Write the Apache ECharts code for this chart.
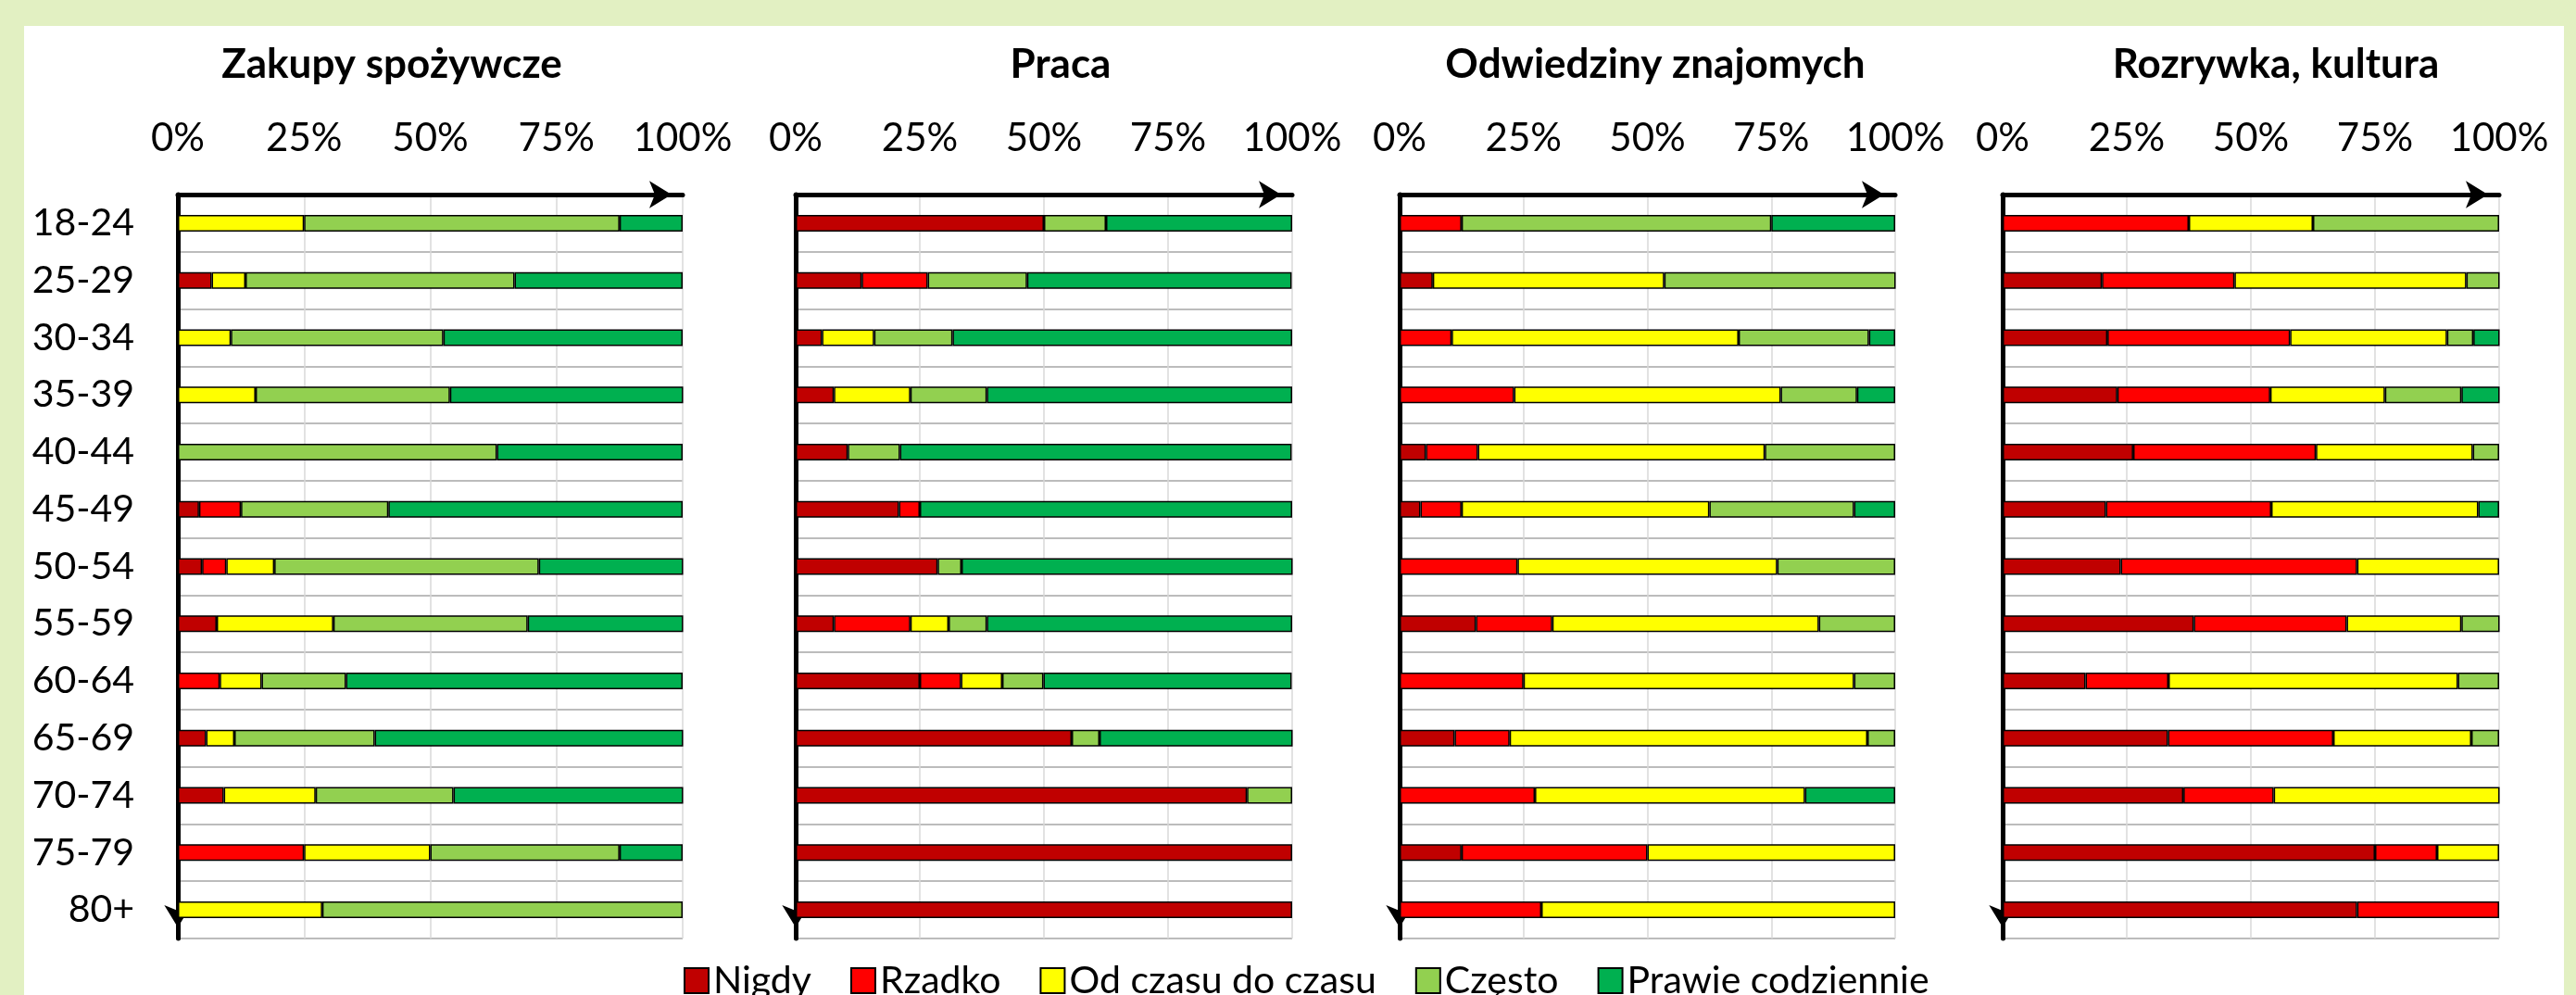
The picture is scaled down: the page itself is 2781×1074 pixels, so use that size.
<!DOCTYPE html>
<html>
<head>
<meta charset="utf-8">
<script src="https://cdn.jsdelivr.net/npm/echarts@6/dist/echarts.min.js"></script>
<style>
  html, body { margin: 0; padding: 0; }
  #page { position: relative; width: 2781px; height: 1074px; background: #E2F0C2; overflow: hidden; }
  #card { position: absolute; left: 26px; top: 28px; width: 2742px; height: 1060px; background: #fff; }
  #chart { position: absolute; left: 0; top: 0; width: 2781px; height: 1074px; }
</style>
</head>
<body>
<div id="page">
  <div id="card"></div>
  <div id="chart"></div>
</div>
<script>
  // grupy wiekowe
  const ages = ['18-24', '25-29', '30-34', '35-39', '40-44', '45-49', '50-54', '55-59', '60-64', '65-69', '70-74', '75-79', '80+']
  const answers = ['Nigdy', 'Rzadko', 'Od czasu do czasu', 'Często', 'Prawie codziennie']
  const colors = ['#C00000', '#FF0000', '#FFFF00', '#92D050', '#00B050']
  const ticks = [0, 25, 50, 75, 100]

  // Zakupy spożywcze (%)
  const zakupyNigdy   = [0, 6.7, 0, 0, 0, 4.2, 4.8, 7.7, 0, 5.6, 9.1, 0, 0]
  const zakupyRzadko  = [0, 0, 0, 0, 0, 8.3, 4.8, 0, 8.3, 0, 0, 25, 0]
  const zakupyOdCzasu = [25, 6.7, 10.5, 15.4, 0, 0, 9.5, 23.1, 8.3, 5.6, 18.2, 25, 28.6]
  const zakupyCzesto  = [62.5, 53.3, 42.1, 38.5, 63.2, 29.2, 52.4, 38.5, 16.7, 27.8, 27.3, 37.5, 71.4]
  const zakupyPrawie  = [12.5, 33.3, 47.4, 46.2, 36.8, 58.3, 28.6, 30.8, 66.7, 61.1, 45.5, 12.5, 0]

  // Praca
  const pracaNigdy   = [50, 13.3, 5.3, 7.7, 10.5, 20.8, 28.6, 7.7, 25, 55.6, 90.9, 100, 100]
  const pracaRzadko  = [0, 13.3, 0, 0, 0, 4.2, 0, 15.4, 8.3, 0, 0, 0, 0]
  const pracaOdCzasu = [0, 0, 10.5, 15.4, 0, 0, 0, 7.7, 8.3, 0, 0, 0, 0]
  const pracaCzesto  = [12.5, 20, 15.8, 15.4, 10.5, 0, 4.8, 7.7, 8.3, 5.6, 9.1, 0, 0]
  const pracaPrawie  = [37.5, 53.3, 68.4, 61.5, 78.9, 75, 66.7, 61.5, 50, 38.9, 0, 0, 0]

  // Odwiedziny znajomych
  const odwiedzinyNigdy   = [0, 6.7, 0, 0, 5.3, 4.2, 0, 15.4, 0, 11.1, 0, 12.5, 0]
  const odwiedzinyRzadko  = [12.5, 0, 10.5, 23.1, 10.5, 8.3, 23.8, 15.4, 25, 11.1, 27.3, 37.5, 28.6]
  const odwiedzinyOdCzasu = [0, 46.7, 57.9, 53.8, 57.9, 50, 52.4, 53.8, 66.7, 72.2, 54.5, 50, 71.4]
  const odwiedzinyCzesto  = [62.5, 46.7, 26.3, 15.4, 26.3, 29.2, 23.8, 15.4, 8.3, 5.6, 0, 0, 0]
  const odwiedzinyPrawie  = [25, 0, 5.3, 7.7, 0, 8.3, 0, 0, 0, 0, 18.2, 0, 0]

  // Rozrywka, kultura
  const rozrywkaNigdy   = [0, 20, 21.1, 23.1, 26.3, 20.8, 23.8, 38.5, 16.7, 33.3, 36.4, 75, 71.4]
  const rozrywkaRzadko  = [37.5, 26.7, 36.8, 30.8, 36.8, 33.3, 47.6, 30.8, 16.7, 33.3, 18.2, 12.5, 28.6]
  const rozrywkaOdCzasu = [25, 46.7, 31.6, 23.1, 31.6, 41.7, 28.6, 23.1, 58.3, 27.8, 45.5, 12.5, 0]
  const rozrywkaCzesto  = [37.5, 6.7, 5.3, 15.4, 5.3, 0, 0, 7.7, 8.3, 5.6, 0, 0, 0]
  const rozrywkaPrawie  = [0, 0, 5.3, 7.7, 0, 4.2, 0, 0, 0, 0, 0, 0, 0]

  const panels = [
    { title: 'Zakupy spożywcze', data: [zakupyNigdy, zakupyRzadko, zakupyOdCzasu, zakupyCzesto, zakupyPrawie] },
    { title: 'Praca', data: [pracaNigdy, pracaRzadko, pracaOdCzasu, pracaCzesto, pracaPrawie] },
    { title: 'Odwiedziny znajomych', data: [odwiedzinyNigdy, odwiedzinyRzadko, odwiedzinyOdCzasu, odwiedzinyCzesto, odwiedzinyPrawie] },
    { title: 'Rozrywka, kultura', data: [rozrywkaNigdy, rozrywkaRzadko, rozrywkaOdCzasu, rozrywkaCzesto, rozrywkaPrawie] }
  ]

  // uklad paneli (px)
  const gridLeft = [192, 859, 1511, 2162]
  const gridWidth = [545, 536, 535, 536]
  const titleX = [423, 1145, 1787, 2457]
  const FONT = 'Lato'

  let dom = echarts.init(document.getElementById('chart'))

  let grids = [], xAxes = [], yAxes = [], series = [], texts = []
  panels.forEach((p, i) => {
    grids.push({ left: gridLeft[i], width: gridWidth[i], top: 210, height: 803 })
    xAxes.push({
      gridIndex: i,
      type: 'value',
      position: 'top',
      min: ticks[0],
      max: ticks[ticks.length - 1],
      interval: 25,
      axisLine: {
        show: true,
        lineStyle: { color: '#000', width: 5 },
        symbol: ['none', 'arrow'],
        symbolSize: [22, 24],
        symbolOffset: [0, -12]
      },
      axisTick: { show: false },
      axisLabel: { formatter: '{value}%', fontSize: 42, color: '#000', fontFamily: FONT, margin: 40 },
      splitLine: { show: true, lineStyle: { color: '#D9D9D9', width: 1.5 } }
    })
    yAxes.push({
      gridIndex: i,
      type: 'category',
      inverse: true,
      data: ages,
      axisLine: {
        show: true,
        lineStyle: { color: '#000', width: 5 },
        // os odwrocona - strzalka na poczatku (na dole)
        symbol: ['arrow', 'none'],
        symbolSize: [22, 24],
        symbolOffset: [12, 0]
      },
      axisTick: { show: false },
      axisLabel: { show: i === 0, fontSize: 41, color: '#000', fontFamily: FONT, margin: 47 },
      splitLine: { show: true, lineStyle: { color: '#A6A6A6', width: 1.5 } }
    })
    p.data.forEach((vals, k) => {
      series.push({
        name: answers[k],
        type: 'bar',
        stack: 'p' + i,
        xAxisIndex: i,
        yAxisIndex: i,
        barWidth: 18,
        itemStyle: { color: colors[k], borderColor: '#000', borderWidth: 1.5 },
        data: vals.map(v => (v === 0 ? null : v))
      })
    })
    texts.push({
      type: 'text',
      x: titleX[i],
      y: 70,
      style: { text: p.title, font: 'bold 44px ' + FONT, fill: '#000', align: 'center', verticalAlign: 'middle' }
    })
  })

  let option = {
    animation: false,
    textStyle: { fontFamily: FONT },
    grid: grids,
    xAxis: xAxes,
    yAxis: yAxes,
    legend: {
      data: answers,
      left: 733,
      top: 1033,
      icon: 'rect',
      itemWidth: 26,
      itemHeight: 27,
      itemGap: 42,
      textStyle: { fontSize: 41, color: '#000', fontFamily: FONT }
    },
    graphic: texts,
    series: series
  }

  dom.setOption(option)
</script>
</body>
</html>
